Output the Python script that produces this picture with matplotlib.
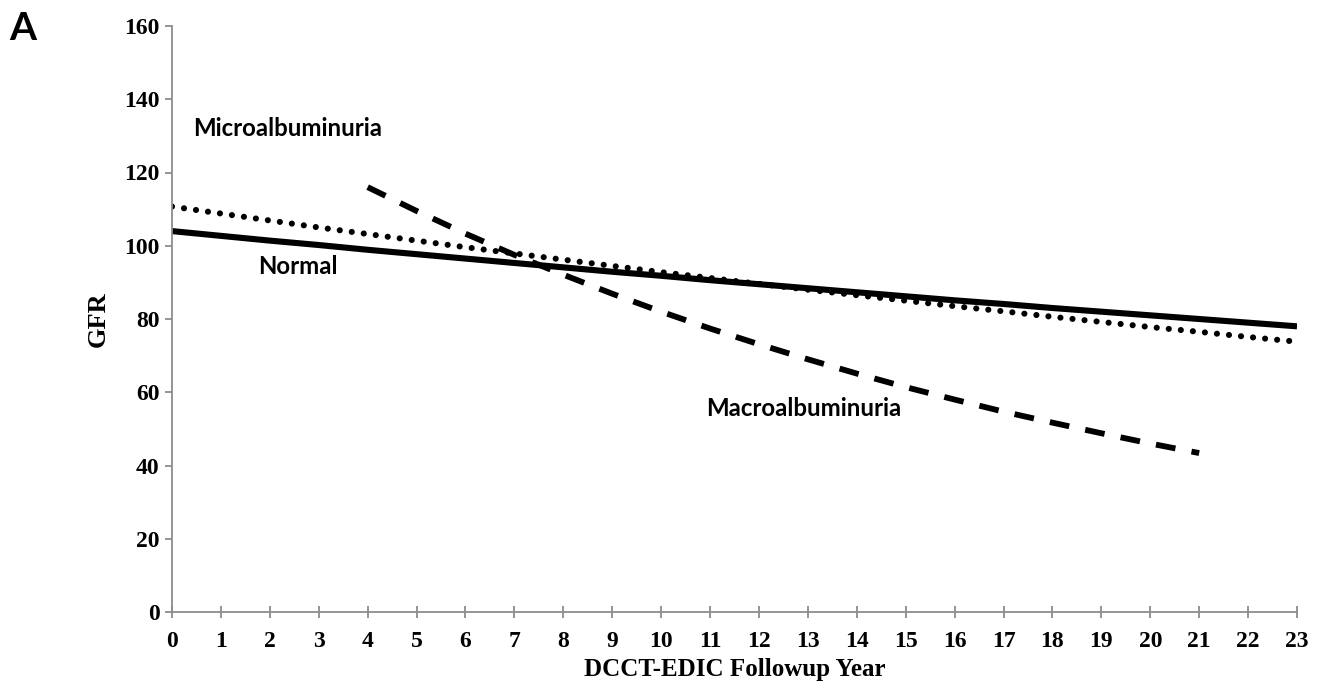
import matplotlib
matplotlib.use("Agg")
import matplotlib.pyplot as plt

years_normal = list(range(0, 24))
gfr_normal = [104.0, 102.7, 101.4, 100.2, 98.9, 97.7, 96.5, 95.3, 94.1, 92.9, 91.8, 90.6,
              89.5, 88.4, 87.3, 86.2, 85.1, 84.1, 83.0, 82.0, 81.0, 80.0, 79.0, 78.0]
years_micro = list(range(0, 24))
gfr_micro = [110.7, 108.8, 106.9, 105.0, 103.2, 101.4, 99.6, 97.9, 96.2, 94.5, 92.8, 91.2,
             89.6, 88.0, 86.5, 85.0, 83.5, 82.1, 80.6, 79.2, 77.8, 76.5, 75.1, 73.8]
years_macro = list(range(4, 22))
gfr_macro = [116.0, 109.5, 103.3, 97.5, 92.1, 86.9, 82.0, 77.4, 73.1, 69.0, 65.1, 61.4,
             58.0, 54.7, 51.7, 48.8, 46.0, 43.4]

xticks = list(range(0, 24))
yticks = [0, 20, 40, 60, 80, 100, 120, 140, 160]

serif = ["Liberation Serif", "DejaVu Serif"]
sans = ["Lato", "Open Sans", "DejaVu Sans"]

fig = plt.figure(figsize=(13.19, 6.84), dpi=100)
ax = fig.add_axes([172 / 1319, 1 - 612 / 684, (1297 - 172) / 1319, (612 - 26) / 684])

ax.plot(years_normal, gfr_normal, color="black", lw=4.4, solid_capstyle="butt")
ax.plot(years_micro, gfr_micro, color="black", lw=4.4,
        linestyle=(0, (0.01, 1.97)), dash_capstyle="round")
ax.plot(years_macro, gfr_macro, color="black", lw=4.2,
        linestyle=(0, (3.4, 2.8)), dash_capstyle="butt")

ax.set_xlim(0, 23)
ax.set_ylim(0, 160)
ax.set_xticks(xticks)
ax.set_yticks(yticks)
ax.set_xticklabels([str(v) for v in xticks], family=serif, fontweight="bold", fontsize=17)
ax.set_yticklabels([str(v) for v in yticks], family=serif, fontweight="bold", fontsize=17)

for s in ["top", "right"]:
    ax.spines[s].set_visible(False)
for s in ["left", "bottom"]:
    ax.spines[s].set_color("#8c8c8c")
    ax.spines[s].set_linewidth(1.3)
ax.tick_params(axis="both", colors="#8c8c8c", labelcolor="black", width=1.3)
ax.tick_params(axis="x", direction="inout", length=8, pad=10)
ax.tick_params(axis="y", direction="out", length=5, pad=4)

ax.set_xlabel("DCCT-EDIC Followup Year", family=serif, fontweight="bold", fontsize=18, labelpad=4)
ax.set_ylabel("GFR", family=serif, fontweight="bold", fontsize=19, labelpad=10)

ax.text(193 / 1319, 1 - 128 / 684, "Microalbuminuria", transform=fig.transFigure,
        family=sans, fontweight="bold", fontsize=17.3, ha="left", va="center")
ax.text(258 / 1319, 1 - 267 / 684, "Normal", transform=fig.transFigure,
        family=sans, fontweight="bold", fontsize=17.3, ha="left", va="center")
ax.text(706 / 1319, 1 - 408 / 684, "Macroalbuminuria", transform=fig.transFigure,
        family=sans, fontweight="bold", fontsize=17.3, ha="left", va="center")
fig.text(9 / 1319, 1 - 29 / 684, "A", family=sans, fontweight="bold", fontsize=28,
         ha="left", va="center")

fig.savefig("out.png", dpi=100)
